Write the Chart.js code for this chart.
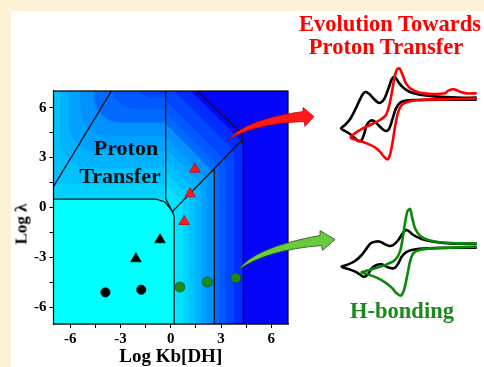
<!DOCTYPE html>
<html>
<head>
<meta charset="utf-8">
<script src="https://cdn.jsdelivr.net/npm/chart.js@4.4.1/dist/chart.umd.min.js"></script>
<style>
  html, body { margin: 0; padding: 0; }
  body { width: 484px; height: 367px; background: #fdf2d6; position: relative; overflow: hidden;
         font-family: 'Liberation Serif', 'Times New Roman', serif; }
  #panel { position: absolute; left: 11px; top: 11px; right: 0; bottom: 0; background: #fff; }
  .box { position: absolute; }
  .lbl { position: absolute; font-weight: bold; white-space: nowrap; line-height: 1;
         transform: translate(-50%, -50%); }
</style>
</head>
<body>
<div id="panel"></div>
<div class="box" style="left:0;top:0;width:484px;height:367px"><canvas id="zoneChart"></canvas></div>
<div class="box" style="left:330px;top:60px;width:154px;height:110px"><canvas id="cvTop"></canvas></div>
<div class="box" style="left:330px;top:195px;width:154px;height:110px"><canvas id="cvBottom"></canvas></div>

<div class="lbl" style="left:126px;top:148px;font-size:22px;color:#111">Proton</div>
<div class="lbl" style="left:120px;top:176px;font-size:22px;color:#111">Transfer</div>
<div class="lbl" style="left:21px;top:224px;font-size:17px;color:#000;transform:translate(-50%,-50%) rotate(-90deg)">Log λ</div>
<div class="lbl" style="left:390px;top:24px;font-size:22.5px;color:#ff0000">Evolution Towards</div>
<div class="lbl" style="left:386px;top:47px;font-size:22.5px;color:#ff0000">Proton Transfer</div>
<div class="lbl" style="left:402px;top:311px;font-size:22.5px;color:#1a8a1a">H-bonding</div>

<script>
// axis ticks
const kbTicks = [-6, -4.5, -3, -1.5, 0, 1.5, 3, 4.5, 6];
const lamTicks = [-6, -4.5, -3, -1.5, 0, 1.5, 3, 4.5, 6];

// measured systems (Log Kb, Log lambda)
const redTriKb = [1.44, 1.16, 0.8];
const redTriLam = [2.3, 0.82, -0.84];
const blackTriKb = [-0.64, -2.08];
const blackTriLam = [-1.94, -3.08];
const blackDotKb = [-3.9, -1.76];
const blackDotLam = [-5.1, -4.94];
const greenDotKb = [0.54, 2.18, 3.88];
const greenDotLam = [-4.78, -4.48, -4.24];

// zone boundaries
const zoneA = [[-7, 1.26], [-3.54, 7]];
const zoneB = [[-0.3, 7], [-0.3, 0.5], [0.1, -0.25]];
const zoneC = [[0.1, -0.25], [4.26, 4.06]];
const zoneD = [[1.6, 7], [4.1, 4.56], [4.28, 4.15], [4.34, 3.7], [4.34, -7]];
const zoneE = [[2.6, 2.32], [2.6, -7]];
// edge of the cyan (pure proton transfer) plateau
const cyanEdge = [[-7, 0.5], [-0.9, 0.5], [-0.4, 0.36], [-0.2, 0.16], [0.1, -0.24], [0.2, -0.54], [0.2, -7]];

// contour bands, from the cyan plateau outwards
const cyanColor = '#00ffff';
const deepBlue = '#0505fa';
const bandColors = ['#00e4ff', '#00d2ff', '#00c2ff', '#00b2ff', '#00a2ff', '#0092ff', '#006aff', '#0058ff', '#0046ff', '#002cff'];
const bandEdgeKb = [0.74, 1.1, 1.46, 1.82, 2.14, 2.56, 2.9, 3.26, 3.8, 4.3];
const bandCornerKb = [-8, -8, -6.6, -6.1, -5.4, -4.6, -3.6, -2.5, 0, 0];
const bandCornerLam = [0.55, 1.4, 2.4, 3.4, 4.3, 5.1, 5.9, 6.6, 8, 8];

// cyclic voltammograms (E, i) in arbitrary units
const cvTopBlack = [[4.37,-1.13],[3.8,-1.13],[3.2,-1.1],[2.7,-1.04],[2.4,-0.96],[2.22,-0.85],[2.08,-0.7],[1.98,-0.55],[1.93,-0.5],[1.85,-0.58],[1.78,-0.78],[1.7,-1.0],[1.62,-1.18],[1.52,-1.28],[1.43,-1.27],[1.3,-1.15],[1.18,-1.02],[1.08,-0.96],[1.0,-1.0],[0.9,-1.18],[0.75,-1.5],[0.6,-1.78],[0.45,-1.95],[0.33,-2.05],[0.45,-2.13],[0.6,-2.22],[0.75,-2.35],[0.85,-2.43],[0.95,-2.4],[1.03,-2.2],[1.1,-1.95],[1.2,-1.83],[1.3,-1.82],[1.4,-1.9],[1.55,-2.05],[1.68,-2.13],[1.78,-2.05],[1.88,-1.75],[1.98,-1.45],[2.1,-1.28],[2.25,-1.22],[2.6,-1.2],[3.3,-1.19],[4.37,-1.19]];
const cvTopRed = [[4.37,-1.0],[4.1,-1.0],[3.9,-0.95],[3.72,-0.88],[3.55,-0.92],[3.45,-1.0],[3.1,-1.02],[2.7,-0.98],[2.45,-0.88],[2.28,-0.7],[2.18,-0.45],[2.08,-0.25],[2.0,-0.3],[1.93,-0.55],[1.86,-0.95],[1.78,-1.35],[1.68,-1.65],[1.5,-1.8],[1.2,-1.95],[0.9,-2.1],[0.62,-2.32],[0.8,-2.4],[1.1,-2.5],[1.35,-2.62],[1.5,-2.75],[1.62,-2.9],[1.72,-2.98],[1.8,-2.85],[1.88,-2.45],[1.96,-1.95],[2.05,-1.55],[2.15,-1.35],[2.35,-1.25],[2.7,-1.2],[3.3,-1.18],[4.37,-1.16]];
const cvBottomBlack = [[4.37,-1.46],[3.7,-1.46],[3.1,-1.4],[2.75,-1.32],[2.5,-1.2],[2.36,-1.08],[2.28,-1.05],[2.18,-1.15],[2.05,-1.35],[1.9,-1.5],[1.78,-1.53],[1.65,-1.48],[1.5,-1.4],[1.35,-1.4],[1.22,-1.45],[1.1,-1.6],[0.95,-1.8],[0.75,-1.98],[0.5,-2.1],[0.35,-2.15],[0.55,-2.22],[0.8,-2.32],[1.0,-2.45],[1.12,-2.4],[1.25,-2.2],[1.4,-2.1],[1.55,-2.08],[1.7,-2.15],[1.85,-2.2],[1.95,-2.18],[2.05,-2.05],[2.15,-1.85],[2.28,-1.72],[2.45,-1.65],[2.9,-1.6],[4.37,-1.58]];
const cvBottomGreen = [[4.37,-1.45],[3.8,-1.45],[3.3,-1.42],[2.95,-1.35],[2.7,-1.22],[2.55,-1.0],[2.47,-0.7],[2.4,-0.42],[2.32,-0.5],[2.25,-0.85],[2.18,-1.3],[2.1,-1.7],[1.95,-1.95],[1.7,-2.08],[1.35,-2.2],[1.0,-2.3],[0.95,-2.32],[1.1,-2.37],[1.4,-2.48],[1.65,-2.62],[1.85,-2.78],[2.0,-2.95],[2.12,-3.02],[2.22,-2.85],[2.32,-2.4],[2.4,-2.0],[2.5,-1.75],[2.68,-1.65],[3.0,-1.6],[3.6,-1.58],[4.37,-1.55]];

const serif = "'Liberation Serif', 'Times New Roman', serif";
const SPLIT = -0.3;

function pairs(list) {
  return list.map(p => ({x: p[0], y: p[1]}));
}
function zip(xs, ys) {
  return xs.map((x, i) => ({x: x, y: ys[i]}));
}

// outline of one contour level: a rounded corner in the left zone,
// a chamfered corner in the right zone
function bandOutline(k) {
  const a = bandEdgeKb[k], cx = bandCornerKb[k], cy = bandCornerLam[k];
  const pts = [];
  const r = 1.6;
  if (cy >= 7) {
    pts.push({x: -7, y: 7}, {x: SPLIT, y: 7});
  } else if (cx <= -7) {
    pts.push({x: -7, y: cy}, {x: SPLIT, y: cy});
  } else {
    pts.push({x: -7, y: 7}, {x: cx, y: 7});
    for (let i = 0; i <= 8; i++) {
      const t = i / 8 * Math.PI / 2;
      pts.push({x: cx + r - r * Math.cos(t), y: cy + r - r * Math.sin(t)});
    }
    pts.push({x: SPLIT, y: cy});
  }
  const yc = a - 0.4;
  const R = 0.9;
  const tl = R * Math.tan(Math.PI / 8);
  pts.push({x: SPLIT, y: yc + (a - SPLIT)});
  for (let i = 0; i <= 4; i++) {
    const t = Math.PI / 4 * (1 - i / 4);
    pts.push({x: a - R + R * Math.cos(t), y: yc - tl + R * Math.sin(t)});
  }
  pts.push({x: a, y: -7});
  return pts;
}

const datasets = [];
datasets.push(
  {data: zip(redTriKb, redTriLam), showLine: false, pointStyle: 'triangle', pointRadius: 6,
   backgroundColor: '#ff1a1a', borderColor: '#cc0000', borderWidth: 0.8, order: 1},
  {data: zip(blackTriKb, blackTriLam), showLine: false, pointStyle: 'triangle', pointRadius: 6,
   backgroundColor: '#000', borderColor: '#000', borderWidth: 0.8, order: 1},
  {data: zip(blackDotKb, blackDotLam), showLine: false, pointStyle: 'circle', pointRadius: 4.6,
   backgroundColor: '#000', borderColor: '#000', borderWidth: 0.8, order: 1},
  {data: zip(greenDotKb, greenDotLam), showLine: false, pointStyle: 'circle', pointRadius: 5,
   backgroundColor: '#1b8a1b', borderColor: '#0f5a0f', borderWidth: 0.8, order: 1}
);
[zoneA, zoneB, zoneC, zoneD, zoneE].forEach(z => {
  datasets.push({data: pairs(z), borderColor: '#111', borderWidth: 1.3, pointRadius: 0,
                 fill: false, tension: 0, order: 5});
});
datasets.push({data: pairs(cyanEdge), borderColor: '#111', borderWidth: 1.3, pointRadius: 0,
               backgroundColor: cyanColor, fill: {value: -7}, tension: 0, order: 19});
bandColors.forEach((c, k) => {
  datasets.push({data: bandOutline(k), borderColor: 'rgba(0,0,0,0)', borderWidth: 0, pointRadius: 0,
                 backgroundColor: c, fill: {value: -7}, tension: 0, order: 20 + k});
});
datasets.push({data: [{x: -7, y: 7}, {x: 7, y: 7}], borderColor: 'rgba(0,0,0,0)', borderWidth: 0,
               pointRadius: 0, backgroundColor: deepBlue, fill: {value: -7}, order: 60});

const framePlugin = {
  id: 'frame',
  afterDatasetsDraw(chart) {
    const {ctx, chartArea: a} = chart;
    ctx.save();
    ctx.strokeStyle = '#000';
    ctx.lineWidth = 1.2;
    ctx.strokeRect(a.left, a.top, a.right - a.left, a.bottom - a.top);
    ctx.restore();
  }
};

// curved arrows pointing to the voltammograms
const arrowPlugin = {
  id: 'arrows',
  afterDraw(chart) {
    const ctx = chart.ctx;
    ctx.save();
    ctx.lineJoin = 'round';
    ctx.beginPath();
    ctx.moveTo(228, 140);
    ctx.quadraticCurveTo(246, 119, 303, 111.5);
    ctx.lineTo(303, 107.5);
    ctx.lineTo(314, 116.5);
    ctx.lineTo(305, 126.5);
    ctx.lineTo(304, 121.5);
    ctx.quadraticCurveTo(252, 124, 228, 140);
    ctx.closePath();
    ctx.fillStyle = '#ff1a1a';
    ctx.fill();
    ctx.strokeStyle = '#b30000';
    ctx.lineWidth = 0.7;
    ctx.stroke();

    ctx.beginPath();
    ctx.moveTo(238, 270);
    ctx.quadraticCurveTo(255, 247, 320, 235.5);
    ctx.lineTo(320, 230.5);
    ctx.lineTo(335, 239.5);
    ctx.lineTo(322.5, 250.5);
    ctx.lineTo(321.5, 245.5);
    ctx.quadraticCurveTo(266, 250, 238, 270);
    ctx.closePath();
    ctx.fillStyle = '#6acc3c';
    ctx.fill();
    ctx.strokeStyle = '#2a4a20';
    ctx.lineWidth = 0.8;
    ctx.stroke();
    ctx.restore();
  }
};

const tickFont = {family: serif, size: 15, weight: 'bold'};
const showThree = v => (v % 3 === 0 ? String(v) : '');

new Chart(document.getElementById('zoneChart'), {
  type: 'line',
  data: {datasets: datasets},
  options: {
    responsive: true,
    maintainAspectRatio: false,
    animation: false,
    events: [],
    layout: {padding: {left: 0, top: 91, right: 196, bottom: 0}},
    plugins: {legend: {display: false}, tooltip: {enabled: false}},
    scales: {
      x: {
        type: 'linear', min: -7, max: 7,
        afterFit(s) { s.height = 43; },
        afterBuildTicks(s) { s.ticks = kbTicks.map(v => ({value: v})); },
        ticks: {callback: showThree, font: tickFont, color: '#000', padding: 2, maxRotation: 0, autoSkip: false},
        grid: {drawOnChartArea: false, tickLength: 4, color: '#000'},
        border: {color: '#000', width: 1.2},
        title: {display: true, text: 'Log Kb[DH]', color: '#000',
                font: {family: serif, size: 19, weight: 'bold', lineHeight: 1}, padding: {top: 0, bottom: 0}}
      },
      y: {
        type: 'linear', min: -7, max: 7,
        afterFit(s) { s.width = 53.5; },
        afterBuildTicks(s) { s.ticks = lamTicks.map(v => ({value: v})); },
        ticks: {callback: showThree, font: tickFont, color: '#000', padding: 3, autoSkip: false},
        grid: {drawOnChartArea: false, tickLength: 4, color: '#000'},
        border: {color: '#000', width: 1.2}
      }
    }
  },
  plugins: [framePlugin, arrowPlugin]
});

function cvChart(id, curves) {
  new Chart(document.getElementById(id), {
    type: 'line',
    data: {
      datasets: curves.map(c => ({
        data: pairs(c.data), borderColor: c.color, borderWidth: 2.6, pointRadius: 0,
        tension: 0.3, fill: false, borderJoinStyle: 'round', borderCapStyle: 'round'
      }))
    },
    options: {
      responsive: true,
      maintainAspectRatio: false,
      animation: false,
      events: [],
      layout: {padding: 0},
      plugins: {legend: {display: false}, tooltip: {enabled: false}},
      scales: {
        x: {type: 'linear', min: 0, max: 4.62, display: false},
        y: {type: 'linear', min: -3.3, max: 0, display: false}
      }
    }
  });
}

cvChart('cvTop', [{data: cvTopRed, color: '#ff0000'}, {data: cvTopBlack, color: '#000'}]);
cvChart('cvBottom', [{data: cvBottomGreen, color: '#0a880a'}, {data: cvBottomBlack, color: '#000'}]);
</script>
</body>
</html>
